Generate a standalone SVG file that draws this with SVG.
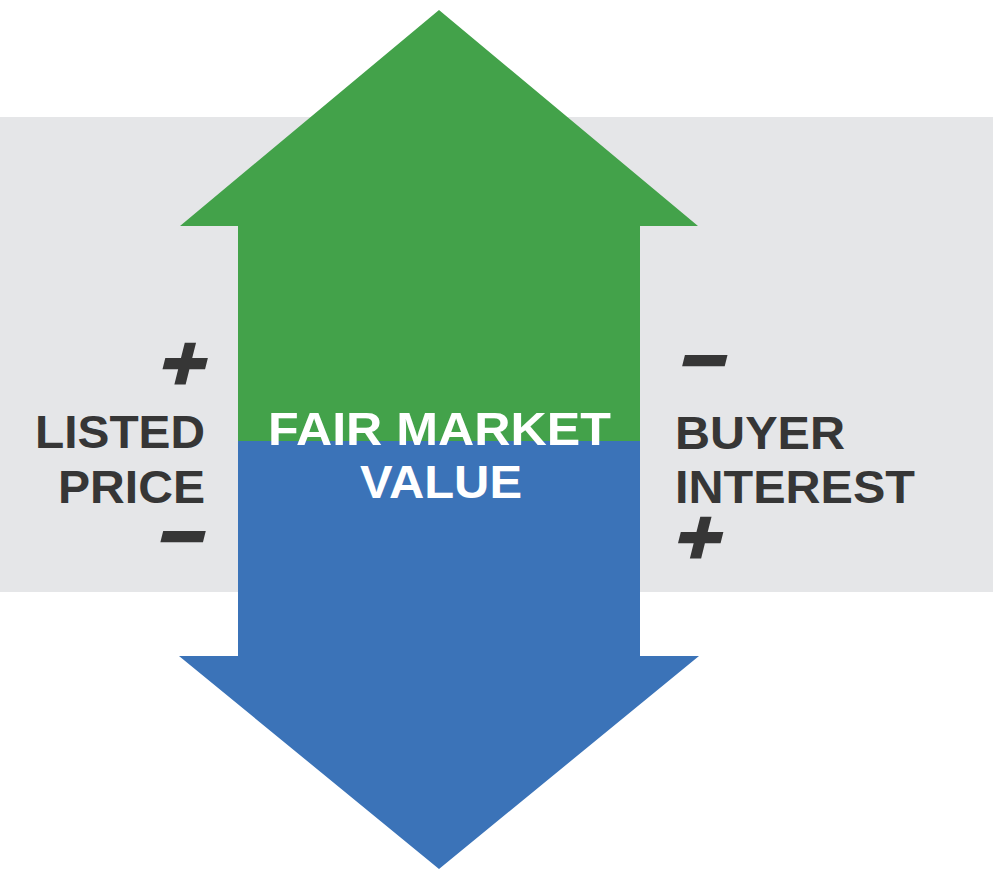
<svg xmlns="http://www.w3.org/2000/svg" width="993" height="870" viewBox="0 0 993 870">
<style>
.lbl{font-family:"Liberation Sans",Arial,sans-serif;font-weight:700;font-size:46px;fill:#363636}
.ctr{font-family:"Liberation Sans",Arial,sans-serif;font-weight:700;font-size:46px;fill:#ffffff}
.sign{font-family:"Open Sans","Liberation Sans",sans-serif;font-weight:800;font-size:86px;fill:#363636}
</style>
<rect x="0" y="0" width="993" height="870" fill="#ffffff"/>
<rect id="band" x="0" y="117" width="993" height="475" fill="#e5e6e8"/>
<g id="up-arrow">
<polygon points="439,10 698,226 640,226 640,442 238,442 238,226 180,226" fill="#43a24a"/>
</g>
<g id="down-arrow">
<polygon points="238,441 640,441 640,656 699,656 439,869 179,656 238,656" fill="#3b73b8"/>
</g>
<g id="center-label">
<text class="ctr" x="439.5" y="445" text-anchor="middle" textLength="343" lengthAdjust="spacingAndGlyphs">FAIR MARKET</text>
<text class="ctr" x="441" y="498" text-anchor="middle" textLength="162" lengthAdjust="spacingAndGlyphs">VALUE</text>
</g>
<g id="listed-price">
<text class="sign" text-anchor="end" transform="translate(203,394) skewX(-14)">+</text>
<text class="lbl" x="205" y="448" text-anchor="end" textLength="170" lengthAdjust="spacingAndGlyphs">LISTED</text>
<text class="lbl" x="205" y="503" text-anchor="end" textLength="147" lengthAdjust="spacingAndGlyphs">PRICE</text>
<text class="sign" text-anchor="end" transform="translate(200,567) skewX(-14)">−</text>
</g>
<g id="buyer-interest">
<text class="sign" transform="translate(673,391) skewX(-14)">−</text>
<text class="lbl" x="675" y="449" textLength="170" lengthAdjust="spacingAndGlyphs">BUYER</text>
<text class="lbl" x="675" y="503" textLength="240" lengthAdjust="spacingAndGlyphs">INTEREST</text>
<text class="sign" transform="translate(668,568) skewX(-14)">+</text>
</g>
<g id="connectors"/>
</svg>
